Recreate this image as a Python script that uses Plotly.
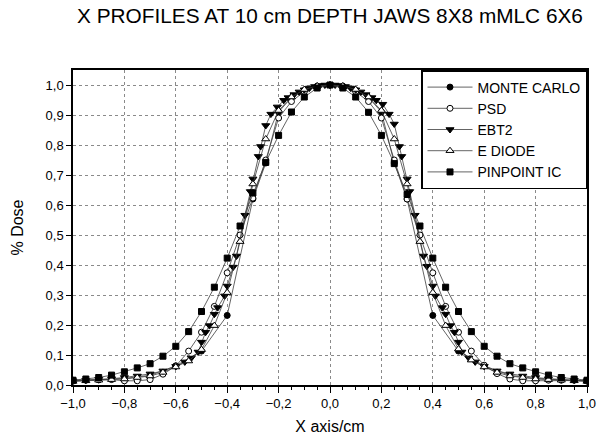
import plotly.graph_objects as go

# ---------------- data ----------------
mc_x = [-1.0, -0.9, -0.8, -0.7, -0.6, -0.5, -0.4, -0.3, -0.25, -0.2, -0.15, -0.1, -0.05, 0.0,
        0.05, 0.1, 0.15, 0.2, 0.25, 0.3, 0.4, 0.5, 0.6, 0.7, 0.8, 0.9, 1.0]
mc_y = [0.013, 0.017, 0.022, 0.032, 0.064, 0.113, 0.232, 0.620, 0.740, 0.910, 0.958, 0.982, 0.996, 1.000,
        0.996, 0.982, 0.958, 0.910, 0.740, 0.620, 0.232, 0.113, 0.064, 0.032, 0.022, 0.017, 0.013]

step_x = [-1.0, -0.95, -0.9, -0.85, -0.8, -0.75, -0.7, -0.65, -0.6, -0.55, -0.5, -0.45, -0.4, -0.35,
          -0.3, -0.25, -0.2, -0.15, -0.1, -0.05, 0.0, 0.05, 0.1, 0.15, 0.2, 0.25, 0.3, 0.35, 0.4,
          0.45, 0.5, 0.55, 0.6, 0.65, 0.7, 0.75, 0.8, 0.85, 0.9, 0.95, 1.0]

psd_y = [0.016, 0.016, 0.018, 0.018, 0.014, 0.014, 0.018, 0.036, 0.063, 0.113, 0.176, 0.262, 0.374, 0.500,
         0.623, 0.750, 0.890, 0.945, 0.978, 0.995, 1.000, 0.995, 0.978, 0.945, 0.890, 0.750, 0.620, 0.500,
         0.374, 0.262, 0.176, 0.113, 0.066, 0.038, 0.020, 0.014, 0.014, 0.016, 0.016, 0.016, 0.015]

ebt2_x = [-1.0, -0.95, -0.9, -0.85, -0.8, -0.75, -0.7, -0.65, -0.6, -0.565, -0.54, -0.513, -0.5, -0.484,
          -0.469, -0.45, -0.437, -0.41, -0.4, -0.377, -0.364, -0.331, -0.31, -0.3, -0.279, -0.27, -0.25,
          -0.23, -0.205, -0.18, -0.163, -0.14, -0.12, -0.1, -0.08, -0.06, -0.04, -0.02, 0.0,
          0.02, 0.04, 0.06, 0.08, 0.1, 0.12, 0.14, 0.163, 0.18, 0.205, 0.23, 0.25, 0.27, 0.279, 0.3,
          0.31, 0.331, 0.364, 0.377, 0.4, 0.41, 0.437, 0.45, 0.469, 0.484, 0.5, 0.513, 0.54, 0.565,
          0.6, 0.65, 0.7, 0.75, 0.8, 0.85, 0.9, 0.95, 1.0]
ebt2_y = [0.014, 0.016, 0.019, 0.021, 0.025, 0.030, 0.037, 0.047, 0.062, 0.077, 0.090, 0.110, 0.143, 0.176,
          0.198, 0.236, 0.258, 0.297, 0.330, 0.393, 0.430, 0.566, 0.645, 0.687, 0.762, 0.795, 0.865,
          0.903, 0.927, 0.949, 0.958, 0.968, 0.977, 0.984, 0.990, 0.995, 0.998, 1.000, 1.000,
          1.000, 0.998, 0.995, 0.990, 0.984, 0.977, 0.968, 0.958, 0.949, 0.936, 0.903, 0.870, 0.795, 0.762, 0.687,
          0.645, 0.566, 0.430, 0.396, 0.330, 0.297, 0.258, 0.236, 0.198, 0.176, 0.143, 0.110, 0.090, 0.077,
          0.062, 0.047, 0.037, 0.030, 0.025, 0.021, 0.019, 0.016, 0.014]

ediode_y = [0.012, 0.014, 0.016, 0.018, 0.020, 0.025, 0.030, 0.042, 0.060, 0.080, 0.118, 0.198, 0.308, 0.478,
            0.670, 0.820, 0.915, 0.960, 0.985, 0.997, 1.000, 0.997, 0.985, 0.960, 0.915, 0.820, 0.670, 0.478,
            0.308, 0.198, 0.120, 0.083, 0.060, 0.042, 0.030, 0.025, 0.020, 0.018, 0.016, 0.014, 0.012]

pinpoint_y = [0.016, 0.020, 0.025, 0.033, 0.044, 0.057, 0.071, 0.096, 0.129, 0.178, 0.245, 0.326, 0.423, 0.530,
              0.640, 0.742, 0.832, 0.910, 0.960, 0.990, 1.000, 0.990, 0.960, 0.909, 0.832, 0.738, 0.635, 0.530,
              0.423, 0.326, 0.245, 0.178, 0.129, 0.096, 0.071, 0.057, 0.044, 0.033, 0.025, 0.020, 0.016]

x_ticks = [-1.0, -0.8, -0.6, -0.4, -0.2, 0.0, 0.2, 0.4, 0.6, 0.8, 1.0]
y_ticks = [0.0, 0.1, 0.2, 0.3, 0.4, 0.5, 0.6, 0.7, 0.8, 0.9, 1.0]

# ---------------- figure ----------------
FONT = "Liberation Sans, Arial, sans-serif"
LINE = "#3c3c3c"

fig = go.Figure()

def add(name, x, y, symbol, fill, size):
    fig.add_trace(go.Scatter(
        x=x, y=y, name=name, mode="lines+markers",
        line=dict(color=LINE, width=0.8),
        marker=dict(symbol=symbol, size=size, color=fill,
                    line=dict(color="black", width=1)),
    ))

add("MONTE CARLO", mc_x, mc_y, "circle", "black", 6)
add("PSD", step_x, psd_y, "circle", "white", 6)
add("EBT2", ebt2_x, ebt2_y, "triangle-down", "black", 7)
add("E DIODE", step_x, ediode_y, "triangle-up", "white", 7)
add("PINPOINT IC", step_x, pinpoint_y, "square", "black", 6)

axis_common = dict(
    showline=True, linecolor="black", linewidth=1.5, mirror=True,
    showgrid=True, gridcolor="#8a8a8a", griddash="dot", gridwidth=1,
    zeroline=False, ticks="outside", tickcolor="black", tickwidth=1,
    tickfont=dict(family=FONT, size=13, color="black"),
    tickformat=".1f",
)

fig.update_layout(
    width=606, height=443,
    margin=dict(l=73, r=10, t=70, b=55),
    paper_bgcolor="white", plot_bgcolor="white",
    separators=",.",
    font=dict(family=FONT, color="black"),
    title=dict(text="X PROFILES AT 10 cm DEPTH JAWS 8X8 mMLC 6X6",
               x=0.5, xref="paper", xanchor="center",
               y=1 - 16 / 443, yref="container", yanchor="middle",
               font=dict(family=FONT, size=20.8, color="black")),
    xaxis=dict(axis_common, range=[-1, 1], tickmode="array", tickvals=x_ticks, ticklen=6,
               minor=dict(dtick=0.05, tick0=-1, ticks="outside", ticklen=3, tickcolor="black", showgrid=False),
               title=dict(text="X axis/cm", font=dict(family=FONT, size=16), standoff=10)),
    xaxis2=dict(overlaying="x", side="top", anchor="y", range=[-1, 1], showline=False, showgrid=False,
                zeroline=False, showticklabels=False, ticks="inside", tickcolor="black",
                tickmode="linear", tick0=-1, dtick=0.05, ticklen=4),
    yaxis=dict(axis_common, range=[0, 1.05], tickmode="array", tickvals=y_ticks, ticklen=5,
               title=dict(text="% Dose", font=dict(family=FONT, size=16), standoff=18)),
    legend=dict(x=1, xanchor="right", y=1, yanchor="top", bgcolor="white",
                bordercolor="black", borderwidth=1.5,
                font=dict(family=FONT, size=14, color="black"),
                itemwidth=45, tracegroupgap=0),
    showlegend=True,
)

fig.write_html("out.html")
